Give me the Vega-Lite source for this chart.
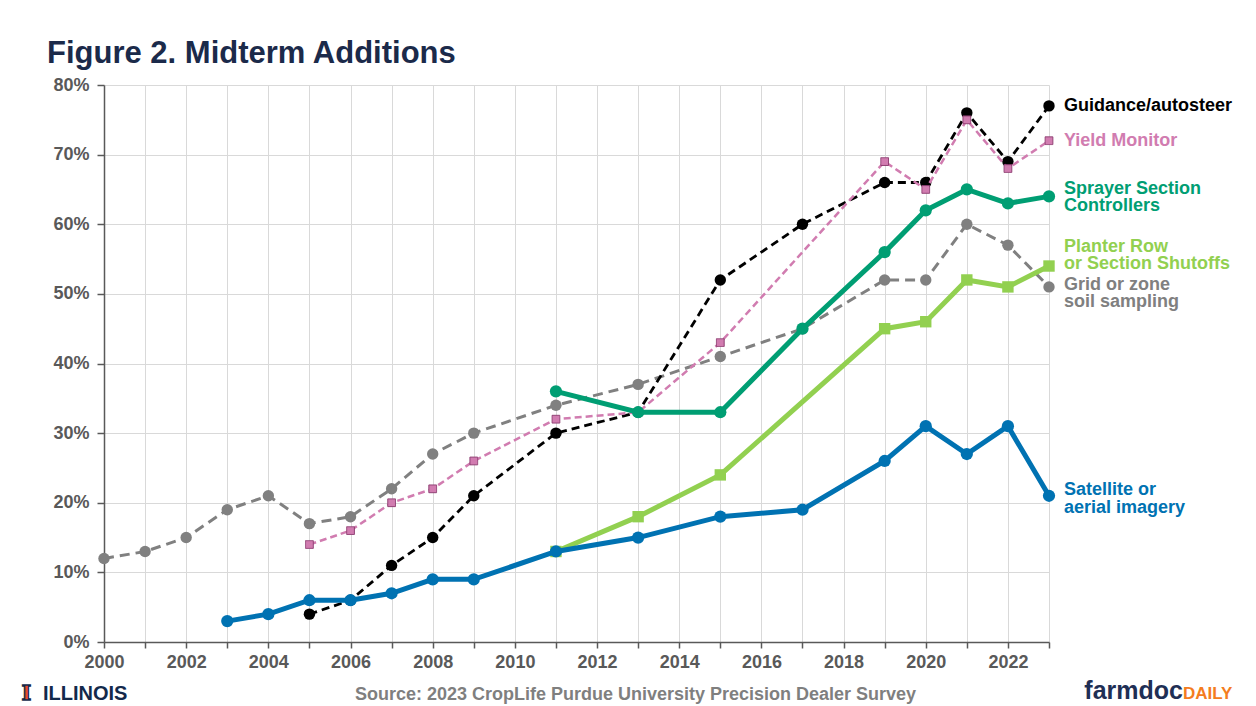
{
  "$schema": "https://vega.github.io/schema/vega-lite/v6.json",
  "width": 945,
  "height": 557,
  "autosize": {"type": "none"},
  "padding": {"left": 104, "top": 85, "right": 207, "bottom": 64},
  "background": "white",
  "config": {
    "view": {"stroke": null},
    "font": "Liberation Sans",
    "text": {"font": "Liberation Sans"}
  },
  "title": {
    "text": "Figure 2. Midterm Additions",
    "anchor": "start",
    "frame": "group",
    "dx": -57,
    "dy": 28,
    "fontSize": 31,
    "font": "Liberation Sans",
    "fontWeight": "bold",
    "color": "#1B2A4A",
    "baseline": "alphabetic",
    "offset": 10
  },
  "datasets": {
    "series": [
      {"s": "grid", "year": 2000, "v": 12}, {"s": "grid", "year": 2001, "v": 13}, {"s": "grid", "year": 2002, "v": 15},
      {"s": "grid", "year": 2003, "v": 19}, {"s": "grid", "year": 2004, "v": 21}, {"s": "grid", "year": 2005, "v": 17},
      {"s": "grid", "year": 2006, "v": 18}, {"s": "grid", "year": 2007, "v": 22}, {"s": "grid", "year": 2008, "v": 27},
      {"s": "grid", "year": 2009, "v": 30}, {"s": "grid", "year": 2011, "v": 34}, {"s": "grid", "year": 2013, "v": 37},
      {"s": "grid", "year": 2015, "v": 41}, {"s": "grid", "year": 2017, "v": 45}, {"s": "grid", "year": 2019, "v": 52},
      {"s": "grid", "year": 2020, "v": 52}, {"s": "grid", "year": 2021, "v": 60}, {"s": "grid", "year": 2022, "v": 57},
      {"s": "grid", "year": 2023, "v": 51},
      {"s": "guid", "year": 2005, "v": 4}, {"s": "guid", "year": 2006, "v": 6}, {"s": "guid", "year": 2007, "v": 11},
      {"s": "guid", "year": 2008, "v": 15}, {"s": "guid", "year": 2009, "v": 21}, {"s": "guid", "year": 2011, "v": 30},
      {"s": "guid", "year": 2013, "v": 33}, {"s": "guid", "year": 2015, "v": 52}, {"s": "guid", "year": 2017, "v": 60},
      {"s": "guid", "year": 2019, "v": 66}, {"s": "guid", "year": 2020, "v": 66}, {"s": "guid", "year": 2021, "v": 76},
      {"s": "guid", "year": 2022, "v": 69}, {"s": "guid", "year": 2023, "v": 77},
      {"s": "yield", "year": 2005, "v": 14}, {"s": "yield", "year": 2006, "v": 16}, {"s": "yield", "year": 2007, "v": 20},
      {"s": "yield", "year": 2008, "v": 22}, {"s": "yield", "year": 2009, "v": 26}, {"s": "yield", "year": 2011, "v": 32},
      {"s": "yield", "year": 2013, "v": 33}, {"s": "yield", "year": 2015, "v": 43}, {"s": "yield", "year": 2019, "v": 69},
      {"s": "yield", "year": 2020, "v": 65}, {"s": "yield", "year": 2021, "v": 75}, {"s": "yield", "year": 2022, "v": 68},
      {"s": "yield", "year": 2023, "v": 72},
      {"s": "spray", "year": 2011, "v": 36}, {"s": "spray", "year": 2013, "v": 33}, {"s": "spray", "year": 2015, "v": 33},
      {"s": "spray", "year": 2017, "v": 45}, {"s": "spray", "year": 2019, "v": 56}, {"s": "spray", "year": 2020, "v": 62},
      {"s": "spray", "year": 2021, "v": 65}, {"s": "spray", "year": 2022, "v": 63}, {"s": "spray", "year": 2023, "v": 64},
      {"s": "plant", "year": 2011, "v": 13}, {"s": "plant", "year": 2013, "v": 18}, {"s": "plant", "year": 2015, "v": 24},
      {"s": "plant", "year": 2019, "v": 45}, {"s": "plant", "year": 2020, "v": 46}, {"s": "plant", "year": 2021, "v": 52},
      {"s": "plant", "year": 2022, "v": 51}, {"s": "plant", "year": 2023, "v": 54},
      {"s": "sat", "year": 2003, "v": 3}, {"s": "sat", "year": 2004, "v": 4}, {"s": "sat", "year": 2005, "v": 6},
      {"s": "sat", "year": 2006, "v": 6}, {"s": "sat", "year": 2007, "v": 7}, {"s": "sat", "year": 2008, "v": 9},
      {"s": "sat", "year": 2009, "v": 9}, {"s": "sat", "year": 2011, "v": 13}, {"s": "sat", "year": 2013, "v": 15},
      {"s": "sat", "year": 2015, "v": 18}, {"s": "sat", "year": 2017, "v": 19}, {"s": "sat", "year": 2019, "v": 26},
      {"s": "sat", "year": 2020, "v": 31}, {"s": "sat", "year": 2021, "v": 27}, {"s": "sat", "year": 2022, "v": 31},
      {"s": "sat", "year": 2023, "v": 21}
    ],
    "labels": [
      {"s": "guid", "label": "Guidance/autosteer", "year": 2023, "v": 77.0},
      {"s": "yield", "label": "Yield Monitor", "year": 2023, "v": 71.9},
      {"s": "spray", "label": "Sprayer Section\nControllers", "year": 2023, "v": 65.1},
      {"s": "plant", "label": "Planter Row\nor Section Shutoffs", "year": 2023, "v": 56.8},
      {"s": "grid", "label": "Grid or zone\nsoil sampling", "year": 2023, "v": 51.3},
      {"s": "sat", "label": "Satellite or\naerial imagery", "year": 2023, "v": 21.8}
    ],
    "footer": [
      {"k": "mark", "t": "I", "year": 1998.114, "v": -8.33},
      {"k": "name", "t": "ILLINOIS", "year": 1998.515, "v": -8.33},
      {"k": "farm", "t": "farmdoc", "year": 2026.26, "v": -8.19},
      {"k": "daily", "t": "DAILY", "year": 2026.26, "v": -8.19}
    ]
  },
  "encoding": {
    "x": {
      "field": "year",
      "type": "quantitative",
      "scale": {"domain": [2000, 2023], "nice": false, "zero": false},
      "axis": {
        "values": [2000,2001,2002,2003,2004,2005,2006,2007,2008,2009,2010,2011,2012,2013,2014,2015,2016,2017,2018,2019,2020,2021,2022,2023],
        "labelExpr": "datum.value % 2 == 0 ? '' + datum.value : ''",
        "labelFont": "Liberation Sans",
        "labelFontSize": 18,
        "labelFontWeight": "bold",
        "labelColor": "#595959",
        "labelPadding": 5,
        "labelFlush": false,
        "labelOverlap": false,
        "domainColor": "#595959",
        "domainWidth": 1.5,
        "tickColor": "#595959",
        "tickWidth": 1.5,
        "tickSize": 6,
        "gridColor": "#D9D9D9",
        "gridWidth": 1,
        "title": "Source: 2023 CropLife Purdue University Precision Dealer Survey",
        "titleFont": "Liberation Sans",
        "titleFontSize": 18,
        "titleFontWeight": "bold",
        "titleColor": "#7F7F7F",
        "titleX": 531,
        "titleY": 57,
        "titleAlign": "center",
        "titleBaseline": "alphabetic"
      }
    },
    "y": {
      "field": "v",
      "type": "quantitative",
      "scale": {"domain": [0, 80], "nice": false},
      "axis": {
        "values": [0,10,20,30,40,50,60,70,80],
        "labelExpr": "datum.value + '%'",
        "labelFont": "Liberation Sans",
        "labelFontSize": 18,
        "labelFontWeight": "bold",
        "labelColor": "#595959",
        "labelPadding": 8,
        "domainColor": "#595959",
        "domainWidth": 1.5,
        "tickColor": "#595959",
        "tickWidth": 1.5,
        "tickSize": 7,
        "gridColor": "#D9D9D9",
        "gridWidth": 1,
        "title": null
      }
    }
  },
  "layer": [
    {
      "data": {"name": "series"},
      "transform": [{"filter": "datum.s == 'grid'"}],
      "mark": {"type": "line", "color": "#808080", "strokeWidth": 3, "strokeDash": [10, 6],
        "point": {"filled": true, "shape": "circle", "size": 130, "color": "#808080", "strokeDash": [1, 0]}}
    },
    {
      "data": {"name": "series"},
      "transform": [{"filter": "datum.s == 'guid'"}],
      "mark": {"type": "line", "color": "#000000", "strokeWidth": 2.8, "strokeDash": [8, 5],
        "point": {"filled": true, "shape": "circle", "size": 130, "color": "#000000", "strokeDash": [1, 0]}}
    },
    {
      "data": {"name": "series"},
      "transform": [{"filter": "datum.s == 'yield'"}],
      "mark": {"type": "line", "color": "#D17CB0", "strokeWidth": 2.5, "strokeDash": [7, 4],
        "point": {"filled": true, "shape": "square", "size": 60, "fill": "#D17CB0", "stroke": "#8E3F72", "strokeWidth": 1, "strokeDash": [1, 0]}}
    },
    {
      "data": {"name": "series"},
      "transform": [{"filter": "datum.s == 'spray'"}],
      "mark": {"type": "line", "color": "#009E73", "strokeWidth": 5,
        "point": {"filled": true, "shape": "circle", "size": 150, "color": "#009E73"}}
    },
    {
      "data": {"name": "series"},
      "transform": [{"filter": "datum.s == 'plant'"}],
      "mark": {"type": "line", "color": "#92D050", "strokeWidth": 5,
        "point": {"filled": true, "shape": "square", "size": 130, "color": "#92D050"}}
    },
    {
      "data": {"name": "series"},
      "transform": [{"filter": "datum.s == 'sat'"}],
      "mark": {"type": "line", "color": "#0072B2", "strokeWidth": 5,
        "point": {"filled": true, "shape": "circle", "size": 150, "color": "#0072B2"}}
    },
    {
      "data": {"name": "labels"},
      "mark": {"type": "text", "align": "left", "baseline": "middle", "dx": 15, "fontSize": 18, "fontWeight": "bold", "lineBreak": "\n", "lineHeight": 17.5, "font": "Liberation Sans"},
      "encoding": {
        "text": {"field": "label"},
        "color": {
          "field": "s",
          "type": "nominal",
          "scale": {"domain": ["guid", "yield", "spray", "plant", "grid", "sat"], "range": ["#000000", "#D17CB0", "#009E73", "#92D050", "#808080", "#0072B2"]},
          "legend": null
        }
      }
    },
    {
      "data": {"name": "footer"},
      "transform": [{"filter": "datum.k == 'mark'"}],
      "mark": {"type": "text", "font": "DejaVu Serif", "fontWeight": "bold", "fontSize": 21, "align": "center", "baseline": "alphabetic", "fill": "#E84A27", "stroke": "#13294B", "strokeWidth": 1.3},
      "encoding": {"text": {"field": "t"}}
    },
    {
      "data": {"name": "footer"},
      "transform": [{"filter": "datum.k == 'name'"}],
      "mark": {"type": "text", "font": "Liberation Sans", "fontWeight": "bold", "fontSize": 20, "align": "left", "baseline": "alphabetic", "fill": "#13294B"},
      "encoding": {"text": {"field": "t"}}
    },
    {
      "data": {"name": "footer"},
      "transform": [{"filter": "datum.k == 'farm'"}],
      "mark": {"type": "text", "font": "Liberation Sans", "fontWeight": "bold", "fontSize": 25, "align": "right", "baseline": "alphabetic", "fill": "#1F2F55"},
      "encoding": {"text": {"field": "t"}}
    },
    {
      "data": {"name": "footer"},
      "transform": [{"filter": "datum.k == 'daily'"}],
      "mark": {"type": "text", "font": "Liberation Sans", "fontWeight": "bold", "fontSize": 17, "align": "left", "baseline": "alphabetic", "fill": "#F47C20"},
      "encoding": {"text": {"field": "t"}}
    }
  ]
}
